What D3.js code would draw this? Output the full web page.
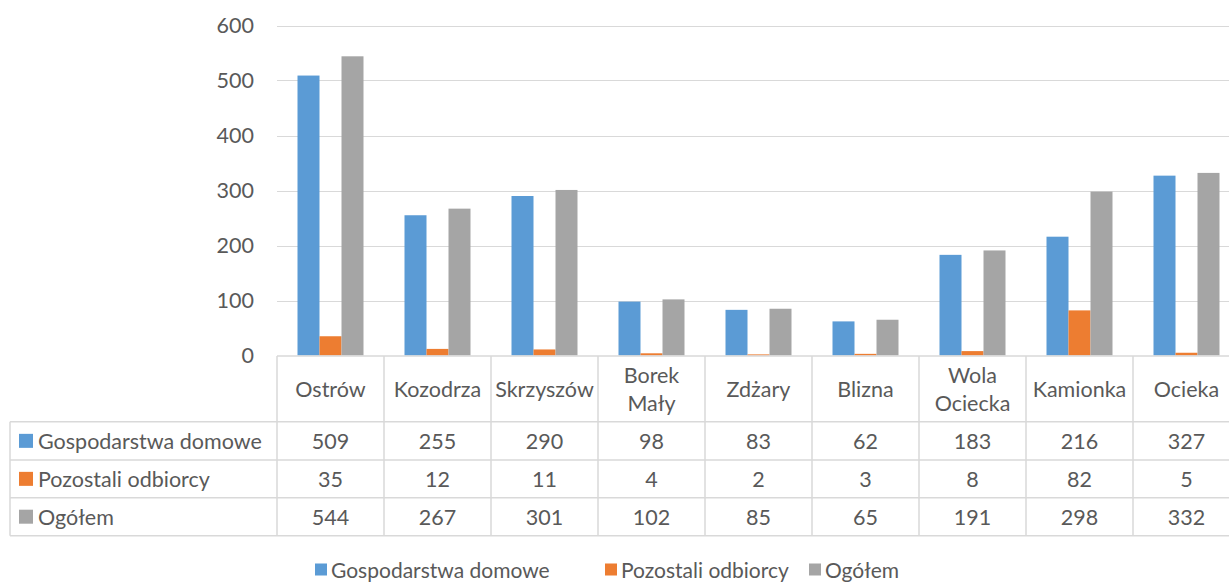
<!DOCTYPE html>
<html>
<head>
<meta charset="utf-8">
<script src="https://cdn.jsdelivr.net/npm/d3@7"></script>
<style>
html,body{margin:0;padding:0;background:#fff;overflow:hidden;}
svg{display:block;}
text{font-family:"Lato","Open Sans",sans-serif;fill:#595959;}
</style>
</head>
<body>
<svg id="chart" width="1229" height="583"></svg>
<script>
const categories = ["Ostrów","Kozodrza","Skrzyszów","Borek Mały","Zdżary","Blizna","Wola Ociecka","Kamionka","Ocieka"];
const categoryLines = [["Ostrów"],["Kozodrza"],["Skrzyszów"],["Borek","Mały"],["Zdżary"],["Blizna"],["Wola","Ociecka"],["Kamionka"],["Ocieka"]];
const seriesNames = ["Gospodarstwa domowe","Pozostali odbiorcy","Ogółem"];
const gospodarstwa = [509,255,290,98,83,62,183,216,327];
const pozostali = [35,12,11,4,2,3,8,82,5];
const ogolem = [544,267,301,102,85,65,191,298,332];
const seriesValues = [gospodarstwa,pozostali,ogolem];
const colors = ["#5b9bd5","#ed7d31","#a5a5a5"];
const yTicks = [0,100,200,300,400,500,600];

const svg = d3.select("#chart");
const fs = 21.5;
const plotLeft = 277, colW = 107;
const plotRight = plotLeft + colW*categories.length;
const y0 = 355.5, yTop = 25.5;
const grid = "#d9d9d9";

const x = d3.scaleBand().domain(categories).range([plotLeft, plotRight]).paddingInner(0).paddingOuter(0);
const xs = d3.scaleBand().domain(d3.range(3)).range([20.5, 86.5]).padding(0);
const y = d3.scaleLinear().domain([0,600]).range([y0, yTop]);

// gridlines
svg.append("g").selectAll("line").data(yTicks.filter(d=>d>0)).join("line")
  .attr("x1", plotLeft).attr("x2", 1229)
  .attr("y1", d=>Math.round(y(d))+0.5).attr("y2", d=>Math.round(y(d))+0.5)
  .attr("stroke", grid).attr("stroke-width",1.2);

// y axis labels via d3 axis
const yAxis = svg.append("g").attr("transform",`translate(${plotLeft},0)`)
  .call(d3.axisLeft(y).tickValues(yTicks).tickSize(0).tickPadding(23));
yAxis.select(".domain").remove();
yAxis.selectAll("text").attr("font-size",fs).attr("font-family","Lato, 'Open Sans', sans-serif").attr("fill","#595959");

// bars
const groups = svg.append("g").selectAll("g").data(categories).join("g")
  .attr("transform", d=>`translate(${x(d)},0)`);
groups.selectAll("rect").data((d,i)=>seriesValues.map((s,k)=>({k, v:s[i]}))).join("rect")
  .attr("x", d=>xs(d.k)).attr("width", xs.bandwidth())
  .attr("y", d=>y(d.v)).attr("height", d=>y0 - y(d.v))
  .attr("fill", d=>colors[d.k]);

// data table
const rowY = [356, 421.7, 460, 497.7, 535.7];
const tableLeft = 10;
const tg = svg.append("g").attr("stroke", grid).attr("stroke-width", 1.5).attr("fill","none");
tg.append("line").attr("x1", plotLeft).attr("x2", 1229).attr("y1", rowY[0]).attr("y2", rowY[0]);
for (let r=1;r<rowY.length;r++){
  tg.append("line").attr("x1", tableLeft).attr("x2", 1229).attr("y1", rowY[r]).attr("y2", rowY[r]);
}
tg.append("line").attr("x1", tableLeft).attr("x2", tableLeft).attr("y1", rowY[1]).attr("y2", rowY[4]);
categories.forEach(c=>{
  tg.append("line").attr("x1", x(c)).attr("x2", x(c)).attr("y1", rowY[0]).attr("y2", rowY[4]);
});

// header labels
const hdr = svg.append("g");
categories.forEach((c,i)=>{
  const lines = categoryLines[i];
  const cx = x(c) + x.bandwidth()/2;
  const cy = (rowY[0]+rowY[1])/2;
  const lh = 28;
  lines.forEach((ln,j)=>{
    hdr.append("text").attr("x", cx).attr("y", cy + (j - (lines.length-1)/2)*lh)
      .attr("text-anchor","middle").attr("dominant-baseline","central")
      .attr("font-size", fs).text(ln);
  });
});

// rows
seriesNames.forEach((name,k)=>{
  const cy = (rowY[k+1]+rowY[k+2])/2;
  svg.append("rect").attr("x",19).attr("y",cy-7).attr("width",14).attr("height",14).attr("fill",colors[k]);
  svg.append("text").attr("x",38).attr("y",cy).attr("dominant-baseline","central")
    .attr("font-size",fs).text(name);
  categories.forEach((c,i)=>{
    svg.append("text").attr("x", x(c)+x.bandwidth()/2).attr("y",cy)
      .attr("text-anchor","middle").attr("dominant-baseline","central")
      .attr("font-size",fs).text(seriesValues[k][i]);
  });
});

// legend
const legX = [315, 605, 809];
const legY = 569.5;
seriesNames.forEach((name,k)=>{
  svg.append("rect").attr("x",legX[k]).attr("y",legY-6).attr("width",12).attr("height",12).attr("fill",colors[k]);
  svg.append("text").attr("x",legX[k]+16).attr("y",legY).attr("dominant-baseline","central")
    .attr("font-size",fs - 0.5).text(name);
});
</script>
</body>
</html>
